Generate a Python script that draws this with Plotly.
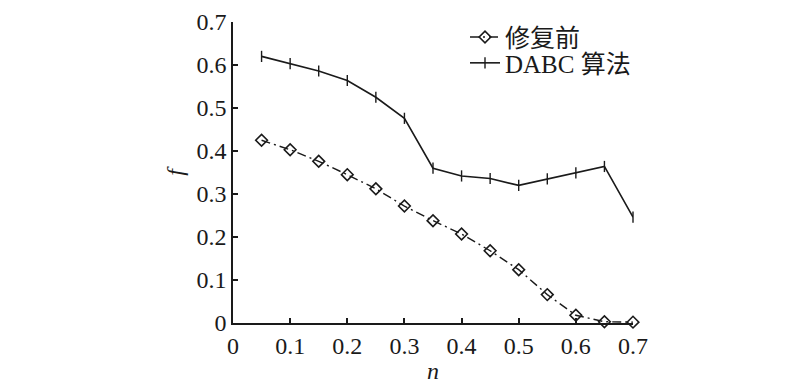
import plotly.graph_objects as go

n_values = [0.05, 0.10, 0.15, 0.20, 0.25, 0.30, 0.35, 0.40, 0.45, 0.50, 0.55, 0.60, 0.65, 0.70]
f_before = [0.425, 0.403, 0.376, 0.345, 0.312, 0.272, 0.238, 0.207, 0.168, 0.124, 0.066, 0.018, 0.003, 0.002]
f_dabc = [0.620, 0.603, 0.586, 0.564, 0.525, 0.476, 0.360, 0.342, 0.336, 0.320, 0.335, 0.349, 0.364, 0.246]
tick_values = [0, 0.1, 0.2, 0.3, 0.4, 0.5, 0.6, 0.7]
tick_labels = ["0", "0.1", "0.2", "0.3", "0.4", "0.5", "0.6", "0.7"]
series_names = ["修复前", "DABC 算法"]

SERIF = "Liberation Serif, Times New Roman, Noto Sans CJK SC, serif"
INK = "#1a1a1a"

fig = go.Figure()
fig.add_trace(go.Scatter(
    x=n_values, y=f_before, name=series_names[0], mode="lines+markers",
    line=dict(color=INK, width=1.4, dash="9px,4px,2px,4px"),
    marker=dict(symbol="diamond-open", size=9, color=INK, line=dict(width=1.6, color=INK)),
    legend="legend", cliponaxis=False,
))
fig.add_trace(go.Scatter(
    x=n_values, y=f_dabc, name=series_names[1], mode="lines+markers",
    line=dict(color=INK, width=1.6),
    marker=dict(symbol="line-ns-open", size=8, color=INK, line=dict(width=1.4, color=INK)),
    legend="legend2", cliponaxis=False,
))

legend_common = dict(
    xanchor="left", yanchor="middle", bgcolor="rgba(0,0,0,0)", borderwidth=0,
    font=dict(family=SERIF, size=25, color=INK), itemwidth=30,
)

fig.update_layout(
    width=800, height=387,
    margin=dict(l=225, r=175, t=14, b=72, autoexpand=False),
    paper_bgcolor="white", plot_bgcolor="white",
    showlegend=True,
    legend=dict(x=0.58, y=0.9495, **legend_common),
    legend2=dict(x=0.58, y=0.8635, **legend_common),
    font=dict(family=SERIF, size=24, color=INK),
    xaxis=dict(
        range=[0, 0.7], tickvals=tick_values, ticktext=tick_labels,
        showline=True, linecolor=INK, linewidth=1.5, mirror=False,
        ticks="inside", ticklen=5, tickwidth=1.5, tickcolor=INK,
        showgrid=False, zeroline=False, automargin=False,
        ticklabeloverflow="allow",
        tickfont=dict(family=SERIF, size=24, color=INK),
        title=dict(text="<i>n</i>", font=dict(family=SERIF, size=24, color=INK), standoff=5),
    ),
    yaxis=dict(
        range=[0, 0.7], tickvals=tick_values, ticktext=tick_labels,
        showline=True, linecolor=INK, linewidth=1.5, mirror=False,
        ticks="inside", ticklen=5, tickwidth=1.5, tickcolor=INK,
        showgrid=False, zeroline=False, automargin=False,
        ticklabeloverflow="allow",
        tickfont=dict(family=SERIF, size=24, color=INK),
        title=dict(text="<i>f</i>", font=dict(family=SERIF, size=24, color=INK), standoff=6),
    ),
)

fig.write_html("out.html")
